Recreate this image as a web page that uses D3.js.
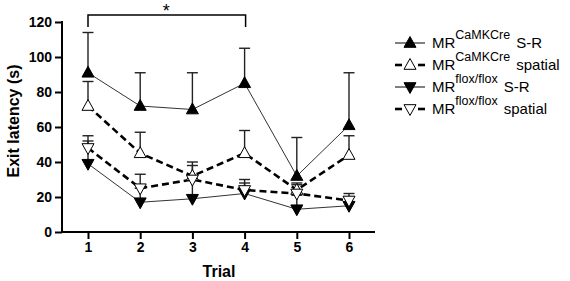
<!DOCTYPE html>
<html><head><meta charset="utf-8">
<script src="https://cdn.jsdelivr.net/npm/d3@7"></script>
<style>body{margin:0;background:#fff}svg{display:block}text{font-family:"Liberation Sans",Arial,sans-serif}</style>
</head><body><svg id="c" width="570" height="281"></svg>
<script>
const trials = [1, 2, 3, 4, 5, 6];
const yTicks = [0, 20, 40, 60, 80, 100, 120];
const camkSR = [91, 72, 70, 85, 32, 61];
const camkSRsem = [23, 19, 21, 20, 22, 30];
const camkSp = [72, 45, 32, 45, 24, 44];
const camkSpSem = [14, 12, 8, 13, 4, 11];
const floxSR = [39, 17, 19, 22, 13, 15];
const floxSRsem = [13, 8, 11, 6, 8, 5];
const floxSp = [48, 25, 30, 24, 22, 18];
const floxSpSem = [7, 8, 8, 6, 5, 4];
const seriesNames = ["S-R", "spatial", "S-R", "spatial"];
const seriesSups = ["CaMKCre", "CaMKCre", "flox/flox", "flox/flox"];

const svg = d3.select("#c");
const x = d3.scaleLinear().domain([1, 6]).range([88, 349]);
const y = d3.scaleLinear().domain([0, 120]).range([232, 22]);

const series = [
  {v: camkSR, e: camkSRsem, dir: "up", fill: "#000", dash: null, lw: 1, lc: "#333"},
  {v: camkSp, e: camkSpSem, dir: "up", fill: "#fff", dash: "7,4", lw: 2.6, lc: "#000"},
  {v: floxSR, e: floxSRsem, dir: "down", fill: "#000", dash: null, lw: 1, lc: "#333"},
  {v: floxSp, e: floxSpSem, dir: "down", fill: "#fff", dash: "7,4", lw: 2.6, lc: "#000"}
];

// axes
const yAxis = svg.append("g").attr("transform", "translate(62,0)")
  .call(d3.axisLeft(y).tickValues(yTicks).tickSize(7).tickPadding(3).tickSizeOuter(0));
const xAxis = svg.append("g").attr("transform", "translate(0,232)")
  .call(d3.axisBottom(x).tickValues(trials).tickSize(7).tickPadding(3).tickFormat(d3.format("d")).tickSizeOuter(0));
[yAxis, xAxis].forEach(g => {
  g.selectAll("path.domain").remove();
  g.selectAll("line").attr("stroke", "#000").attr("stroke-width", 2);
  g.selectAll("text").attr("font-size", 14).attr("font-weight", "bold").attr("fill", "#000");
});
svg.append("line").attr("x1", 62).attr("x2", 62).attr("y1", y(120) - 1).attr("y2", 233).attr("stroke", "#000").attr("stroke-width", 2);
svg.append("line").attr("x1", 61).attr("x2", 375).attr("y1", 232).attr("y2", 232).attr("stroke", "#000").attr("stroke-width", 2);

svg.append("text").attr("transform", "translate(19,121) rotate(-90)").attr("text-anchor", "middle")
  .attr("font-size", 16).attr("font-weight", "bold").text("Exit latency (s)");
svg.append("text").attr("x", 219).attr("y", 277).attr("text-anchor", "middle")
  .attr("font-size", 16).attr("font-weight", "bold").text("Trial");

// significance bracket
svg.append("path").attr("d", `M${x(1)},${27}V15H${x(4) + 1}V27`).attr("fill", "none").attr("stroke", "#000").attr("stroke-width", 1.5);
svg.append("text").attr("x", (x(1) + x(4)) / 2).attr("y", 17).attr("text-anchor", "middle").attr("font-size", 18).text("*");

function tri(dir, s) {
  const h = s * 0.9, w = s / 2;
  return dir === "up" ? `M0,${-h * 0.6}L${w},${h * 0.4}L${-w},${h * 0.4}Z` : `M0,${h * 0.6}L${w},${-h * 0.4}L${-w},${-h * 0.4}Z`;
}

const line = d3.line().x((d, i) => x(trials[i])).y(d => y(d));
// error bars
series.forEach(s => {
  const g = svg.append("g");
  s.v.forEach((v, i) => {
    const top = y(v + s.e[i]);
    g.append("line").attr("x1", x(trials[i])).attr("x2", x(trials[i])).attr("y1", y(v)).attr("y2", top).attr("stroke", "#222").attr("stroke-width", 1.4);
    g.append("line").attr("x1", x(trials[i]) - 5.5).attr("x2", x(trials[i]) + 5.5).attr("y1", top).attr("y2", top).attr("stroke", "#222").attr("stroke-width", 1.4);
  });
});
// lines
series.forEach(s => {
  svg.append("path").datum(s.v).attr("d", line).attr("fill", "none").attr("stroke", s.lc)
    .attr("stroke-width", s.lw).attr("stroke-dasharray", s.dash);
});
// markers
series.forEach(s => {
  svg.append("g").selectAll("path").data(s.v).join("path")
    .attr("transform", (d, i) => `translate(${x(trials[i])},${y(d)})`)
    .attr("d", tri(s.dir, 12)).attr("fill", s.fill).attr("stroke", "#000").attr("stroke-width", 1);
});

// legend
const legY = [43, 65, 87, 109];
series.forEach((s, i) => {
  const g = svg.append("g").attr("transform", `translate(0,${legY[i]})`);
  if (s.dash) {
    g.append("line").attr("x1", 395).attr("x2", 402).attr("stroke", "#000").attr("stroke-width", 2.6);
    g.append("line").attr("x1", 418).attr("x2", 425).attr("stroke", "#000").attr("stroke-width", 2.6);
  } else {
    g.append("line").attr("x1", 395).attr("x2", 425).attr("stroke", "#000").attr("stroke-width", 1);
  }
  g.append("path").attr("transform", "translate(410,0)").attr("d", tri(s.dir, 12)).attr("fill", s.fill).attr("stroke", "#000");
  const t = g.append("text").attr("x", 432).attr("y", 5).attr("font-size", 15).attr("fill", "#000");
  t.append("tspan").text("MR");
  t.append("tspan").attr("font-size", 12.5).attr("dy", -9).text(seriesSups[i]);
  t.append("tspan").attr("dy", 9).attr("dx", 6).text(seriesNames[i]);
});
</script></body></html>
